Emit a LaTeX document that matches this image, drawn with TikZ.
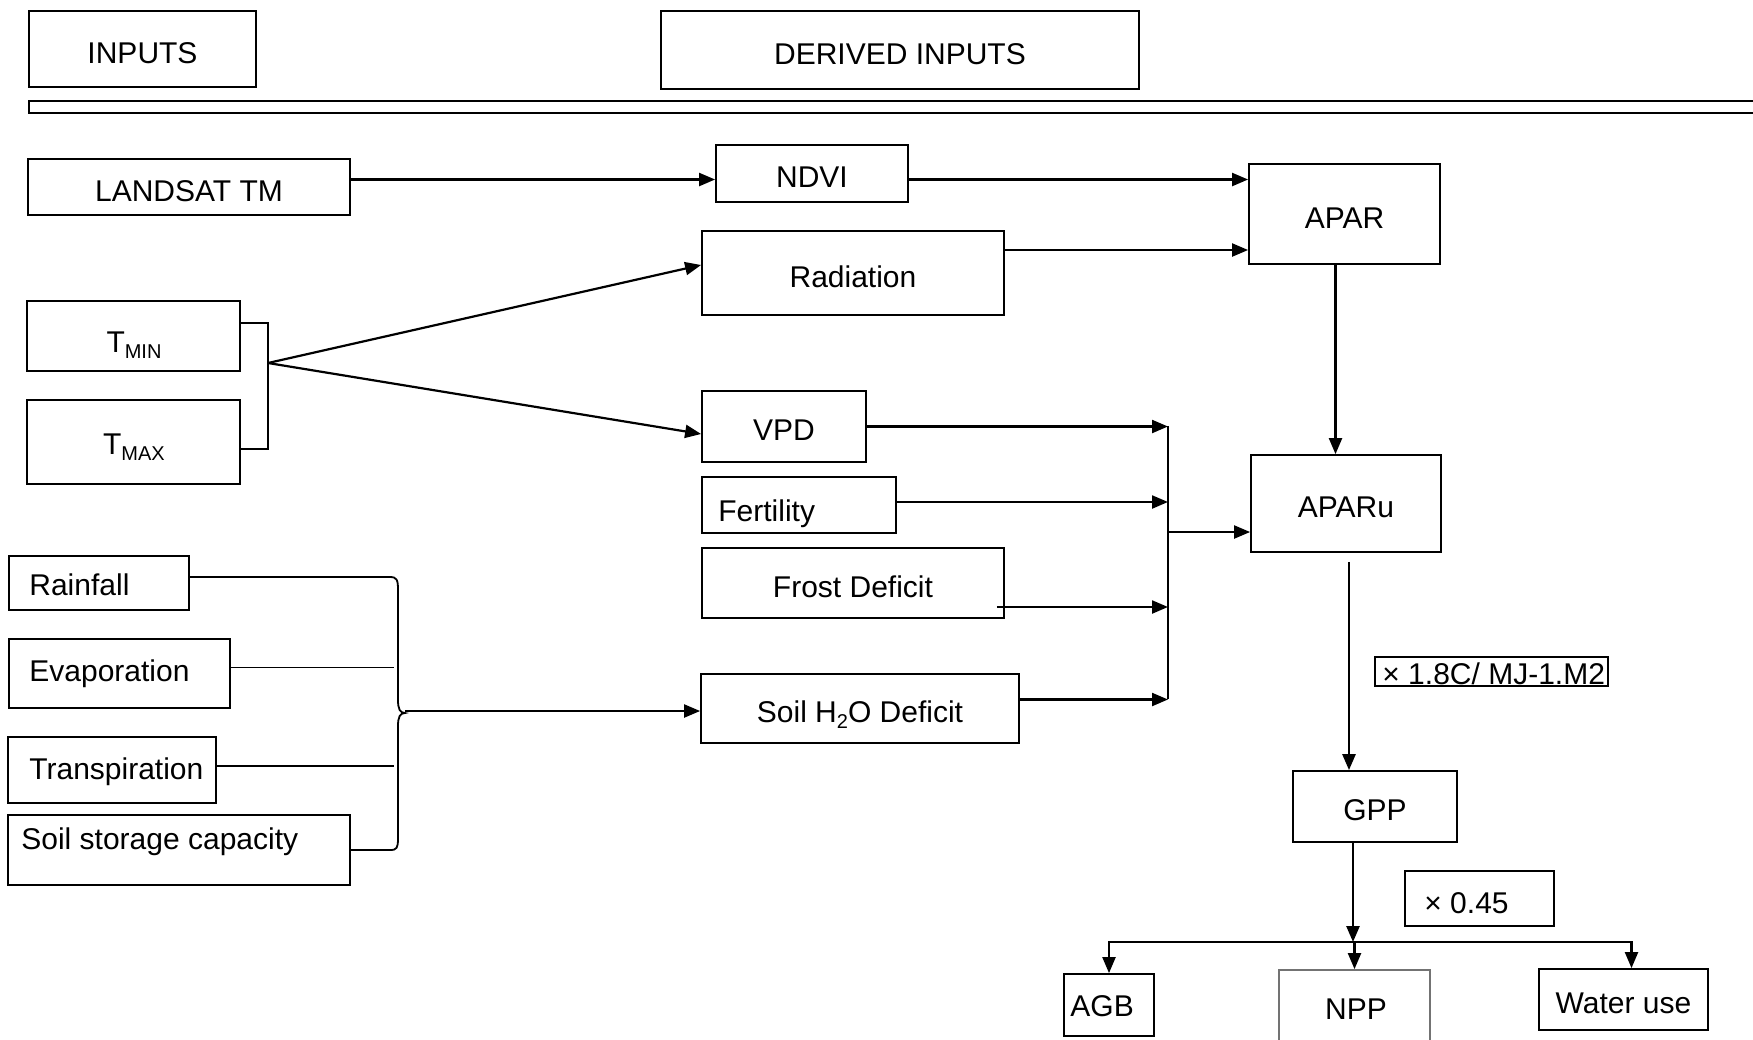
\documentclass[tikz,border=0pt]{standalone}
\usepackage{fontspec}
\setmainfont{Liberation Sans}
\usetikzlibrary{arrows.meta,calc}
\newcommand\bx[7][]{\node[box,minimum width={(#5-#3)*0.5pt},minimum height={(#6-#4)*0.5pt},#1] (#2) at ({(#3+#5)/2},{(#4+#6)/2}) {#7};}
\newcommand\sbs[1]{\raisebox{-0.35ex}{\fontsize{10}{10}\selectfont #1}}
\begin{document}
\begin{tikzpicture}[x=0.5pt,y=-0.5pt,
  box/.style={draw,line width=0.9pt,inner sep=0pt,text height=14pt,text depth=0pt,font=\fontsize{15}{16}\selectfont},
  txt/.style={inner sep=0pt,font=\fontsize{15}{16}\selectfont},
  arr/.style={line width=1.1pt,-{Triangle[length=8pt,width=6.5pt]}},
  ln/.style={line width=0.9pt}]
\useasboundingbox (0,0) rectangle (1753,1040);

% header
\bx{inputs}{29}{11}{256}{87}{INPUTS}
\bx{derived}{661}{11}{1139}{89}{DERIVED INPUTS}
\draw[line width=0.9pt] (1753,101) -- (29,101) -- (29,113) -- (1753,113);

% inputs
\bx{landsat}{28}{159}{350}{215}{LANDSAT TM}
\bx{tmin}{27}{301}{240}{371}{}
\node[txt] at (134,345) {T\sbs{MIN}};
\bx{tmax}{27}{400}{240}{484}{}
\node[txt] at (134,447) {T\sbs{MAX}};
\bx{rain}{9}{556}{189}{610}{}
\node[txt,anchor=west] at (29,585) {Rainfall};
\bx{evap}{9}{639}{230}{708}{}
\node[txt,anchor=west] at (29,673.5) {Evaporation};
\bx{trans}{8}{737}{216}{803}{}
\node[txt,anchor=west] at (29,771.5) {Transpiration};
\bx{ssc}{8}{815}{350}{885}{}
\node[txt,anchor=west] at (21,842) {Soil storage capacity};

% derived
\bx{ndvi}{716}{145}{908}{202}{NDVI}
\bx{rad}{702}{231}{1004}{315}{Radiation}
\bx{vpd}{702}{391}{866}{462}{VPD}
\bx{fert}{702}{477}{896}{533}{}
\node[txt,anchor=west] at (718,514) {Fertility};
\bx{frost}{702}{548}{1004}{618}{Frost Deficit}
\bx{soil}{701}{674}{1019}{743}{Soil H\sbs{2}O Deficit}

% outputs
\bx{apar}{1249}{164}{1440}{264}{APAR}
\bx{aparu}{1251}{455}{1441}{552}{APARu}
\bx[line width=0.7pt]{k1}{1375}{657}{1608}{686}{}
\node[txt,anchor=west] at (1382,674) {× 1.8C/ MJ-1.M2};
\bx{gpp}{1293}{771}{1457}{842}{GPP}
\bx[line width=0.7pt]{k2}{1405}{871}{1554}{926}{}
\node[txt,anchor=west] at (1424,903) {× 0.45};
\bx{agb}{1064}{974}{1154}{1036}{}
\node[txt,anchor=west] at (1070,1006) {AGB};
\bx[draw=black!55]{npp}{1279}{970}{1430}{1070}{}
\node[txt] at (1356,1009) {NPP};
\bx{wat}{1539}{969}{1708}{1030}{Water use}

% landsat / ndvi / radiation -> APAR
\path ([yshift=-3pt]ndvi.west) coordinate (n1);
\draw[arr] (n1 -| landsat.east) -- (n1);
\path ([yshift=-3pt]ndvi.east) coordinate (n2);
\draw[arr] (n2) -- (n2 -| apar.west);
\path ([yshift=11.5pt]rad.east) coordinate (r1);
\draw[arr] (r1) -- (r1 -| apar.west);

% Tmin/Tmax bracket
\coordinate (jt) at (268,363);
\path ([yshift=6.5pt]tmin.east) coordinate (b1) ([yshift=-3.5pt]tmax.east) coordinate (b2);
\draw[ln] (b1) -| (jt |- b2) -- (b2);
\draw[arr] (jt) -- ([yshift=4pt]rad.west);
\draw[arr] (jt) -- ([yshift=-3.75pt]vpd.west);

% water brace
\path ([yshift=3pt]rain.east) coordinate (w1);
\draw[ln] (w1) -- (390,577) .. controls (397,577) and (398,580) .. (398,590) -- (398,700)
  .. controls (398,709) and (400,713) .. (405,713) .. controls (400,713) and (398,717) .. (398,726)
  -- (398,838) .. controls (398,848) and (397,850) .. (390,850) -- (ssc.east);
\coordinate (brace) at (405,711);
\coordinate (bl) at (394,0);
\path ([yshift=3pt]evap.east) coordinate (e1) ([yshift=2pt]trans.east) coordinate (t1);
\draw[ln] (e1) -- (e1 -| bl);
\draw[ln] (t1) -- (t1 -| bl);
\draw[arr] (brace) -- (brace -| soil.west);

% collector into APARu
\coordinate (cvt) at (1168,426);
\coordinate (cvb) at (1168,699);
\draw[ln] (cvt) -- (cvb);
\draw[arr] (vpd.east) -- (vpd.east -| cvt);
\path ([yshift=1.5pt]fert.east) coordinate (f0);
\draw[arr] (f0) -- (f0 -| cvt);
\path ([yshift=-12pt]frost.east) coordinate (f1);
\draw[arr] ([xshift=-4pt]f1) -- (f1 -| cvt);
\path ([yshift=4.5pt]soil.east) coordinate (s1);
\draw[arr] (s1) -- (s1 -| cvt);
\coordinate (cvm) at (1168,532);
\draw[arr] (cvm) -- (cvm -| aparu.west);

% vertical chain
\path ([xshift=-4.5pt]apar.south) coordinate (a1);
\draw[arr] (a1) -- (a1 |- aparu.north);
\path ([xshift=1.5pt,yshift=-4.5pt]aparu.south) coordinate (a2);
\draw[arr,line width=1.3pt] (a2) -- (a2 |- gpp.north);
\coordinate (split) at (1353,942);
\draw[arr,line width=1.3pt] (split |- gpp.south) -- (split);
\draw[arr] (split) -| (agb.north);
\draw[arr] (split) -| ([xshift=4pt]wat.north);
\draw[arr] (split -| npp.north) -- (npp.north);
\end{tikzpicture}
\end{document}
